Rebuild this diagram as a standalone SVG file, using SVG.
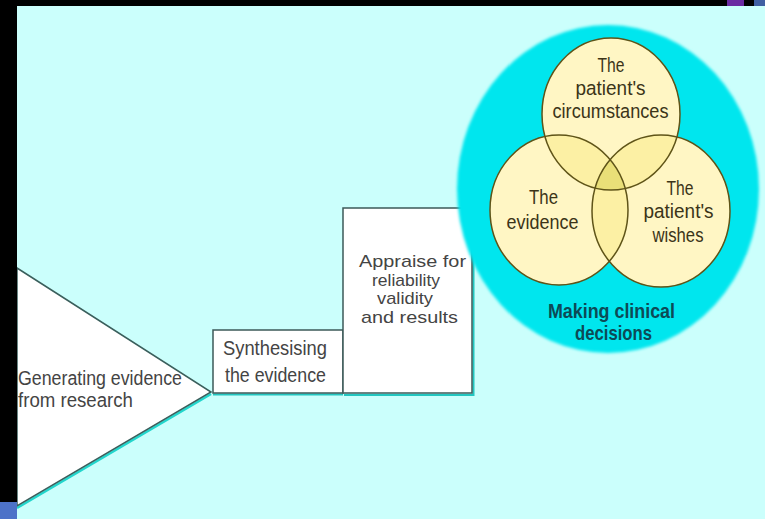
<svg xmlns="http://www.w3.org/2000/svg" width="765" height="519" viewBox="0 0 765 519">
<defs>
<style>
.t{font-family:"Liberation Sans",Arial,sans-serif;font-size:19.5px;fill:#444444}
.a{font-family:"Liberation Sans",Arial,sans-serif;font-size:17px;fill:#444444}
.v{font-family:"Liberation Sans",Arial,sans-serif;font-size:20.5px;fill:#3b3418;text-anchor:middle}
.b{font-family:"Liberation Sans",Arial,sans-serif;font-size:21px;font-weight:bold;fill:#0d4a56;text-anchor:middle}
.box{fill:#ffffff;stroke:#3d5a58;stroke-width:1.5}
.ring{stroke:#5f5418;stroke-width:1.5;fill:none}
</style>
<filter id="soft" x="-5%" y="-5%" width="110%" height="110%"><feGaussianBlur stdDeviation="1.5"/></filter>
<clipPath id="cTop"><ellipse cx="611" cy="114" rx="69" ry="76"/></clipPath>
<clipPath id="cLeft"><ellipse cx="559" cy="210" rx="69" ry="75"/></clipPath>
<clipPath id="cRight"><ellipse cx="661" cy="211" rx="69" ry="76"/></clipPath>
</defs>
<rect x="0" y="0" width="765" height="519" fill="#cbfffc"/>

<g id="node-generating">
<line x1="17" y1="508" x2="211" y2="394" stroke="#22d6cc" stroke-width="2.5"/>
<polygon points="17,268 211,392 17,506" fill="#ffffff" stroke="#3a5f5c" stroke-width="1.5" stroke-linejoin="miter"/>
<text class="t" x="18" y="385" textLength="164" lengthAdjust="spacingAndGlyphs">Generating evidence</text>
<text class="t" x="18" y="407" textLength="115" lengthAdjust="spacingAndGlyphs">from research</text>
</g>

<g id="node-synthesising">
<line x1="213" y1="394.5" x2="343" y2="394.5" stroke="#22c6c0" stroke-width="2"/>
<rect class="box" x="213" y="330" width="130" height="63"/>
<text class="t" x="223" y="355" textLength="104" lengthAdjust="spacingAndGlyphs">Synthesising</text>
<text class="t" x="225" y="382" textLength="101" lengthAdjust="spacingAndGlyphs">the evidence</text>
</g>

<g id="node-appraise">
<polyline points="344,395 473.5,395 473.5,209" fill="none" stroke="#22c6c0" stroke-width="2"/>
<rect class="box" x="343" y="208" width="129" height="185"/>
<text class="a" x="359" y="267" textLength="107" lengthAdjust="spacingAndGlyphs">Appraise for</text>
<text class="a" x="372" y="285.5" textLength="68" lengthAdjust="spacingAndGlyphs">reliability</text>
<text class="a" x="377" y="304" textLength="56" lengthAdjust="spacingAndGlyphs">validity</text>
<text class="a" x="361" y="322.5" textLength="97" lengthAdjust="spacingAndGlyphs">and results</text>
</g>

<g id="node-decisions">
<ellipse cx="608" cy="189" rx="151" ry="164" fill="#00e6ee" filter="url(#soft)"/>
<ellipse cx="611" cy="114" rx="69" ry="76" fill="#fff6c4"/>
<ellipse cx="559" cy="210" rx="69" ry="75" fill="#fff6c4"/>
<ellipse cx="661" cy="211" rx="69" ry="76" fill="#fff6c4"/>
<ellipse cx="611" cy="114" rx="69" ry="76" fill="#fcf0a4" clip-path="url(#cLeft)"/>
<ellipse cx="611" cy="114" rx="69" ry="76" fill="#fcf0a4" clip-path="url(#cRight)"/>
<ellipse cx="559" cy="210" rx="69" ry="75" fill="#fcf0a4" clip-path="url(#cRight)"/>
<g clip-path="url(#cRight)"><ellipse cx="611" cy="114" rx="69" ry="76" fill="#e9df78" clip-path="url(#cLeft)"/></g>
<ellipse class="ring" cx="611" cy="114" rx="69" ry="76"/>
<ellipse class="ring" cx="559" cy="210" rx="69" ry="75"/>
<ellipse class="ring" cx="661" cy="211" rx="69" ry="76"/>
<text class="v" x="611" y="72" textLength="27" lengthAdjust="spacingAndGlyphs">The</text>
<text class="v" x="610.5" y="95" textLength="70" lengthAdjust="spacingAndGlyphs">patient's</text>
<text class="v" x="610.5" y="118" textLength="116" lengthAdjust="spacingAndGlyphs">circumstances</text>
<text class="v" x="543.5" y="204" textLength="29" lengthAdjust="spacingAndGlyphs">The</text>
<text class="v" x="542.5" y="229" textLength="72" lengthAdjust="spacingAndGlyphs">evidence</text>
<text class="v" x="680" y="195" textLength="27" lengthAdjust="spacingAndGlyphs">The</text>
<text class="v" x="678.5" y="218" textLength="70" lengthAdjust="spacingAndGlyphs">patient's</text>
<text class="v" x="678" y="242" textLength="51" lengthAdjust="spacingAndGlyphs">wishes</text>
<text class="b" x="611.5" y="318" textLength="127" lengthAdjust="spacingAndGlyphs">Making clinical</text>
<text class="b" x="613.5" y="340" textLength="77" lengthAdjust="spacingAndGlyphs">decisions</text>
</g>

<g id="connectors"/>

<g id="frame">
<rect x="0" y="0" width="765" height="6" fill="#000000"/>
<rect x="727" y="0" width="17" height="6" fill="#6a2aa2"/>
<rect x="754" y="0" width="11" height="6" fill="#3f5fa2"/>
<rect x="0" y="0" width="17" height="502" fill="#000000"/>
<rect x="0" y="502" width="17" height="17" fill="#4d72c8"/>
</g>
</svg>
